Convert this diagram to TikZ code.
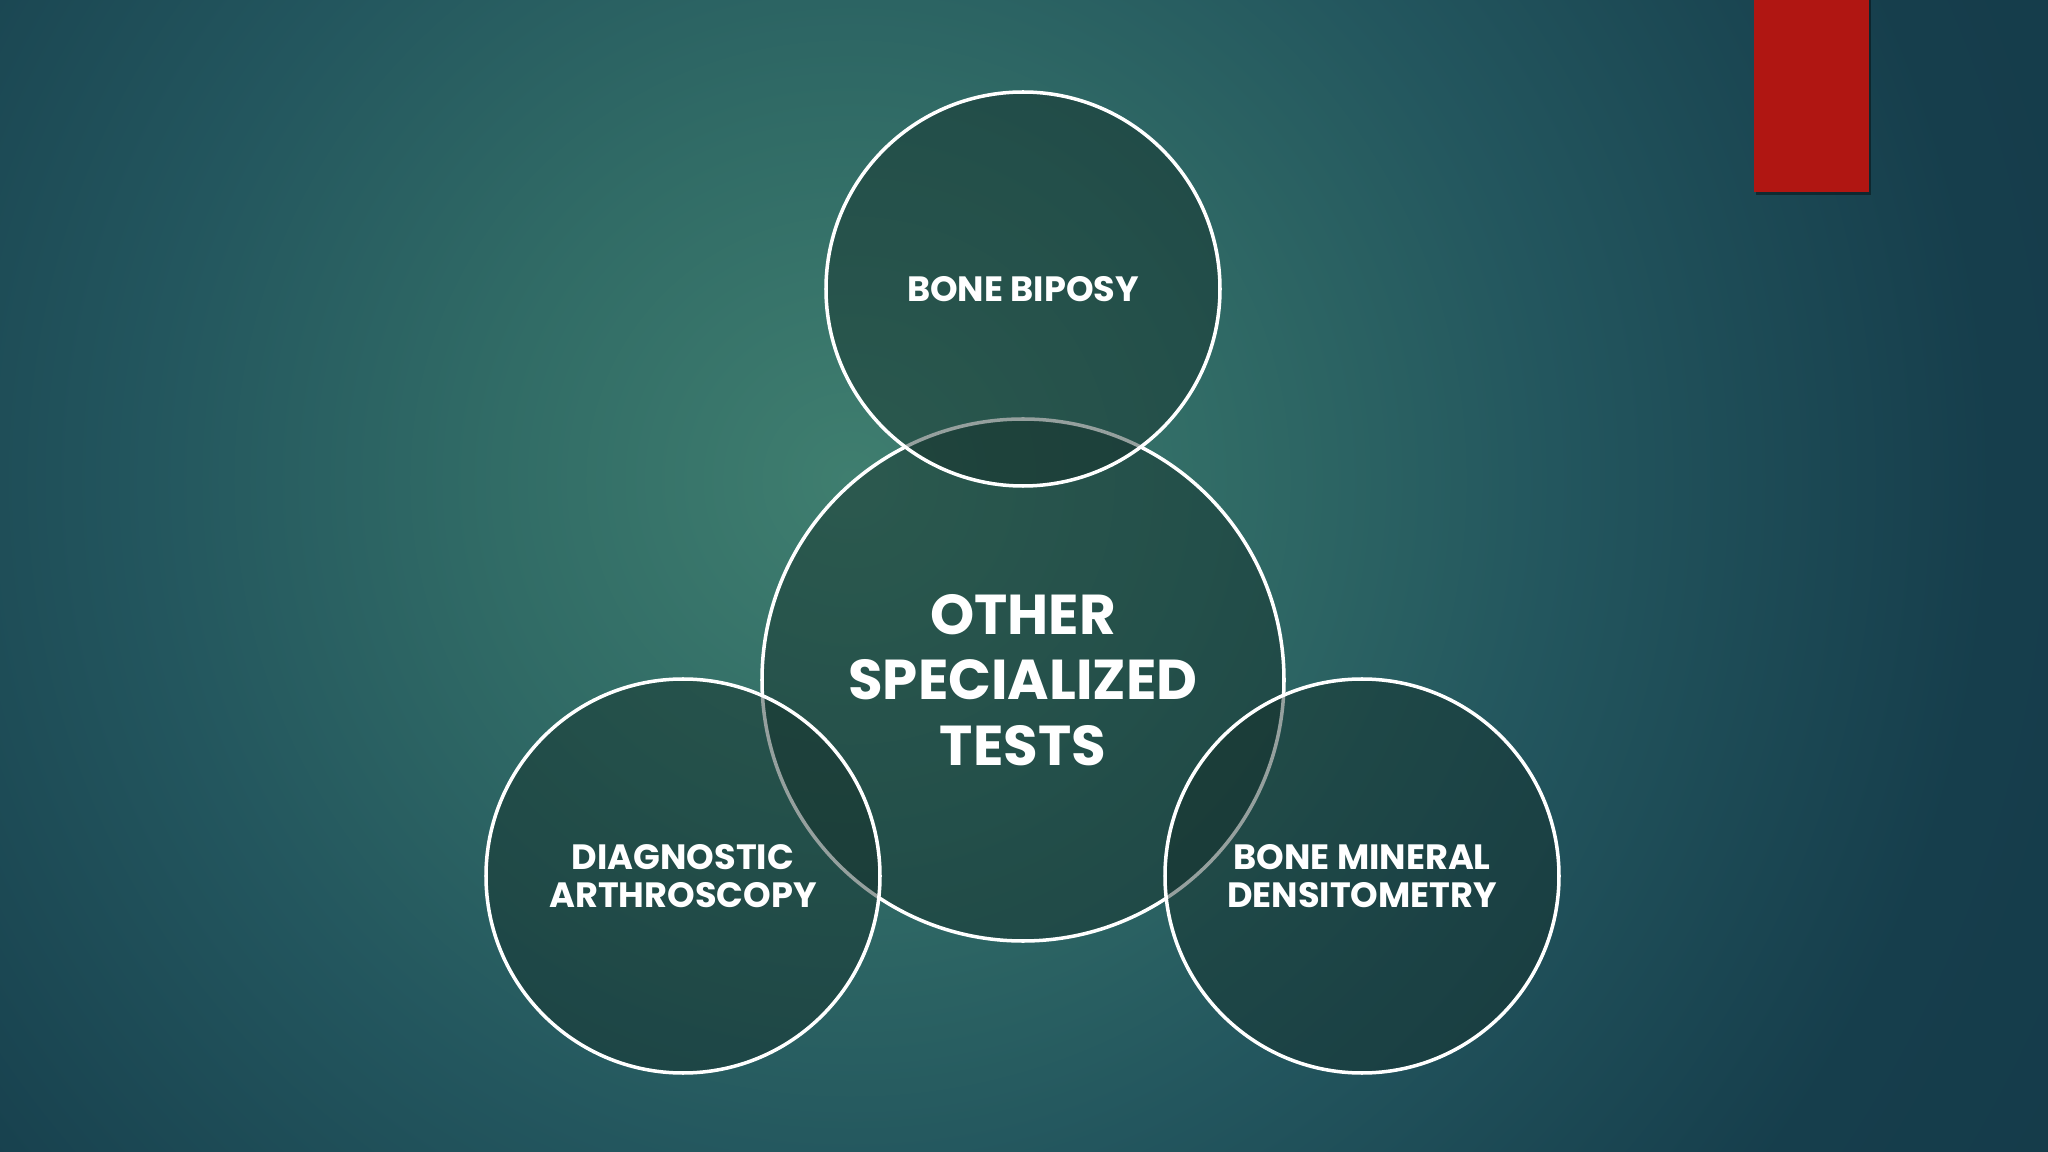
\documentclass[tikz,border=0pt]{standalone}
\usepackage{fontspec}
\setmainfont{Poppins}
\definecolor{bgglow}{HTML}{3F7E6F}
\definecolor{bginner}{HTML}{316C66}
\definecolor{bgmid}{HTML}{23565E}
\definecolor{bgouter}{HTML}{163E4C}
\definecolor{bgdark}{HTML}{103444}
\definecolor{disc}{HTML}{142D28}
\definecolor{tabred}{HTML}{B01612}
\pgfdeclareradialshading{glow}{\pgfpoint{0bp}{0bp}}{color(0bp)=(bgglow); color(4bp)=(bginner); color(8bp)=(bgmid); color(13bp)=(bgouter); color(25bp)=(bgdark); color(50bp)=(bgdark)}

\begin{document}
\begin{tikzpicture}[
    bubble/.style = {draw = white, line width = 1pt, circle, fill = disc, fill opacity = 0.45, text opacity = 1, text = white, align = center, inner sep = 0pt},
    small/.style = {minimum size = 3.94cm, font = \bfseries\fontsize{10}{11}\selectfont},
]
        \useasboundingbox (0, 0) rectangle (20.48, -11.52);
        \begin{scope}
            \clip (0, 0) rectangle (20.48, -11.52);
            \shade[shading = glow] (8.5, -4.8) circle (22);
        \end{scope}

        % tab in the corner
        \fill[black, opacity = 0.4] (17.56, 0) rectangle (18.71, -1.95);
        \fill[tabred] (17.54, 0) rectangle (18.69, -1.92);

        \draw
            (10.23, -6.80) node[bubble, minimum size = 5.22cm, font = \bfseries\fontsize{16}{18.7}\selectfont](tests){OTHER\\SPECIALIZED\\TESTS}

            (10.23, -2.89) node[bubble, small](biopsy){BONE BIPOSY}
            (6.83, -8.76) node[bubble, small](arthro){DIAGNOSTIC\\ARTHROSCOPY}
            (13.62, -8.76) node[bubble, small](dexa){BONE MINERAL\\DENSITOMETRY}
        ;
\end{tikzpicture}
\end{document}
